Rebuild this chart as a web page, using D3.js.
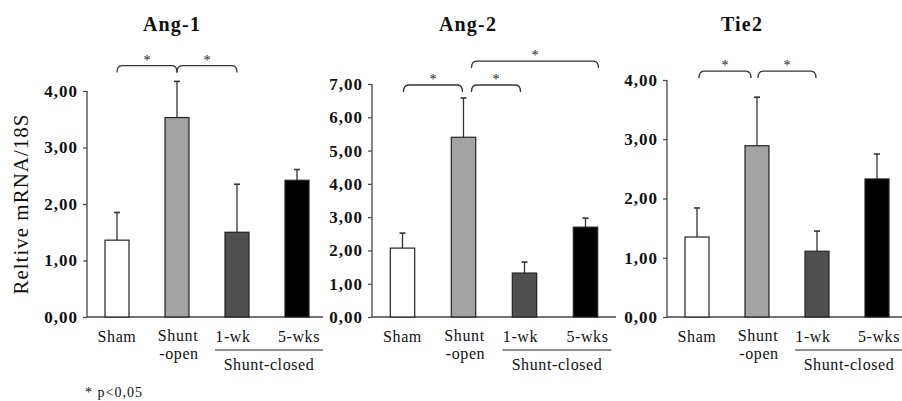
<!DOCTYPE html>
<html>
<head>
<meta charset="utf-8">
<script src="https://cdn.jsdelivr.net/npm/d3@7/dist/d3.min.js"></script>
<style>
  html, body { margin: 0; padding: 0; background: #fff; }
  svg { display: block; }
</style>
</head>
<body>
<svg id="chart" width="902" height="401"></svg>
<script>
// ---------- data ----------
const categories = ["Sham", "Shunt-open", "1-wk", "5-wks"];
const panelTitles = ["Ang-1", "Ang-2", "Tie2"];

const ang1Means = [1.36, 3.53, 1.50, 2.42];
const ang1SD    = [0.49, 0.64, 0.85, 0.19];
const ang2Means = [2.07, 5.40, 1.32, 2.70];
const ang2SD    = [0.45, 1.18, 0.33, 0.27];
const tie2Means = [1.35, 2.89, 1.11, 2.33];
const tie2SD    = [0.49, 0.82, 0.34, 0.42];

const ang1Ticks = [0, 1, 2, 3, 4];
const ang2Ticks = [0, 1, 2, 3, 4, 5, 6, 7];
const tie2Ticks = [0, 1, 2, 3, 4];

// significance brackets: [fromCategory, toCategory, level (y units)]
const ang1Brackets = [[0, 1, 4.45], [1, 2, 4.45]];
const ang2Brackets = [[0, 1, 6.97], [1, 2, 6.97], [1, 3, 7.69]];
const tie2Brackets = [[0, 1, 4.15], [1, 2, 4.15]];

const barColors = ["#ffffff", "#a3a3a3", "#505050", "#000000"];
const footnote = "* p<0,05";
const yAxisLabel = "Reltive mRNA/18S";
const closedLabel = "Shunt-closed";

// ---------- layout ----------
const layouts = [
  { axisX: 87,  top: 91, width: 236, span: 240, titleX: 172, bracketGap: [[0, 0], [0, 0]] },
  { axisX: 372, top: 84, width: 244, span: 244, titleX: 468, bracketGap: [[1, -1], [8, -4], [8, 13]] },
  { axisX: 667, top: 80, width: 236, span: 240, titleX: 742, bracketGap: [[2, -6], [1, -1]] }
];
const panels = [
  { title: panelTitles[0], means: ang1Means, sd: ang1SD, ticks: ang1Ticks, brackets: ang1Brackets },
  { title: panelTitles[1], means: ang2Means, sd: ang2SD, ticks: ang2Ticks, brackets: ang2Brackets },
  { title: panelTitles[2], means: tie2Means, sd: tie2SD, ticks: tie2Ticks, brackets: tie2Brackets }
];
const baseY = 317;
const serif = "'Liberation Serif', 'Times New Roman', serif";
const fmt = v => d3.format(".2f")(v).replace(".", ",");

const svg = d3.select("#chart");

function label(g, x, y, txt) {
  return g.append("text").attr("x", x).attr("y", y).attr("text-anchor", "middle")
    .attr("font-family", serif).attr("font-size", 16).attr("letter-spacing", 0.6)
    .attr("fill", "#111").text(txt);
}

panels.forEach((p, pi) => {
  const L = layouts[pi];
  const maxV = p.ticks[p.ticks.length - 1];
  const y = d3.scaleLinear().domain([0, maxV]).range([baseY, L.top]);
  const x = d3.scaleBand().domain(categories)
    .range([L.axisX, L.axisX + L.span])
    .paddingInner(0.6).paddingOuter(0.3);
  const g = svg.append("g");

  // title
  g.append("text")
    .attr("x", L.titleX).attr("y", 31)
    .attr("text-anchor", "middle")
    .attr("font-family", serif).attr("font-weight", "bold").attr("font-size", 20)
    .attr("letter-spacing", 1.2)
    .attr("fill", "#111")
    .text(p.title);

  // y axis
  const yAxis = d3.axisLeft(y).tickValues(p.ticks).tickFormat(fmt).tickSize(4).tickPadding(5);
  const ya = g.append("g").attr("transform", `translate(${L.axisX},0)`).call(yAxis);
  ya.select(".domain").attr("stroke", "#444").attr("stroke-width", 1.3).attr("d", `M0,${baseY}V${L.top}`);
  ya.selectAll(".tick line").attr("stroke", "#444").attr("stroke-width", 1.2);
  ya.selectAll(".tick text")
    .attr("font-family", serif).attr("font-weight", "bold").attr("font-size", 17)
    .attr("letter-spacing", 1)
    .attr("fill", "#111");

  // x axis baseline
  g.append("line")
    .attr("x1", L.axisX).attr("x2", L.axisX + L.width)
    .attr("y1", baseY).attr("y2", baseY)
    .attr("stroke", "#444").attr("stroke-width", 1.5);

  // error bars (upper only)
  const eb = g.append("g");
  categories.forEach((c, i) => {
    const cx = x(c) + x.bandwidth() / 2;
    const top = y(p.means[i] + p.sd[i]);
    eb.append("line").attr("x1", cx).attr("x2", cx)
      .attr("y1", y(p.means[i])).attr("y2", top)
      .attr("stroke", "#333").attr("stroke-width", 1.3);
    eb.append("line").attr("x1", cx - 3).attr("x2", cx + 3)
      .attr("y1", top).attr("y2", top)
      .attr("stroke", "#333").attr("stroke-width", 1.6);
  });

  // bars
  g.selectAll("rect.bar").data(categories).enter().append("rect")
    .attr("class", "bar")
    .attr("x", c => x(c))
    .attr("width", x.bandwidth())
    .attr("y", (c, i) => y(p.means[i]))
    .attr("height", (c, i) => baseY - y(p.means[i]))
    .attr("fill", (c, i) => barColors[i])
    .attr("stroke", "#222").attr("stroke-width", 1.2);

  // category labels
  const labY = 342;
  categories.forEach((c, i) => {
    const cx = x(c) + x.bandwidth() / 2;
    if (c === "Shunt-open") {
      label(g, cx + 1, labY - 1, "Shunt");
      label(g, cx + 2, labY + 17, "-open");
    } else {
      label(g, cx + (i === 2 ? -4 : i === 3 ? 2 : 0), labY, c);
    }
  });

  // shunt-closed grouping
  const c2 = x(categories[2]) + x.bandwidth() / 2;
  const c3 = x(categories[3]) + x.bandwidth() / 2;
  g.append("line").attr("x1", c2 - 22).attr("x2", c3 + 26)
    .attr("y1", 350).attr("y2", 350).attr("stroke", "#222").attr("stroke-width", 1.2);
  label(g, (c2 - 22 + c3 + 26) / 2, 370, closedLabel);

  // brackets
  p.brackets.forEach((b, bi) => {
    const gap = L.bracketGap[bi];
    const x0 = x(categories[b[0]]) + x.bandwidth() / 2 + gap[0];
    const x1 = x(categories[b[1]]) + x.bandwidth() / 2 + gap[1];
    const yy = y(b[2]);
    const r = 5, h = 7;
    const path = `M${x0},${yy + h} Q${x0},${yy} ${x0 + r},${yy} L${x1 - r},${yy} Q${x1},${yy} ${x1},${yy + h}`;
    g.append("path").attr("d", path).attr("fill", "none")
      .attr("stroke", "#333").attr("stroke-width", 1.3);
    g.append("text").attr("x", (x0 + x1) / 2).attr("y", yy - 1)
      .attr("text-anchor", "middle").attr("font-family", serif).attr("font-size", 14)
      .attr("fill", "#222").text("*");
  });
});

// y-axis label
svg.append("text")
  .attr("transform", "translate(28,204) rotate(-90)")
  .attr("text-anchor", "middle")
  .attr("font-family", serif).attr("font-size", 21).attr("letter-spacing", 1)
  .attr("fill", "#111")
  .text(yAxisLabel);

// footnote
svg.append("text").attr("x", 85).attr("y", 397)
  .attr("font-family", serif).attr("font-size", 14).attr("letter-spacing", 1)
  .attr("fill", "#111")
  .text(footnote);
</script>
</body>
</html>
